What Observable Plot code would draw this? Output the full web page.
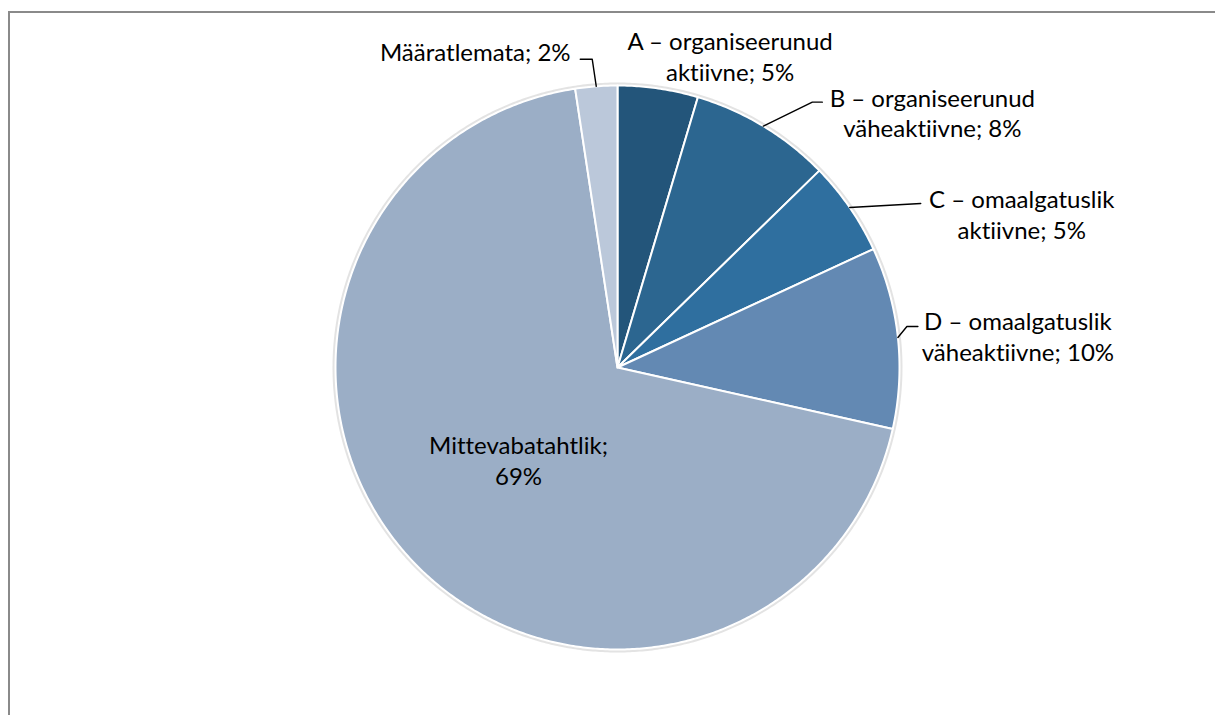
<!DOCTYPE html>
<html><head><meta charset="utf-8">
<script src="https://cdn.jsdelivr.net/npm/d3@7"></script>
<script src="https://cdn.jsdelivr.net/npm/@observablehq/plot@0.6"></script>
<style>
html,body{margin:0;padding:0;background:#fff;overflow:hidden;}
#wrap{position:relative;width:1215px;height:715px;overflow:hidden;}
#frame{position:absolute;left:8px;top:11px;width:1300px;height:800px;border-left:2px solid #8a8a8a;border-top:2px solid #8a8a8a;box-sizing:border-box;pointer-events:none;}
#chart{position:absolute;left:0;top:0;}
#chart text{font-variant-ligatures:none;font-feature-settings:"liga" 0;}
</style></head><body>
<div id="wrap"><div id="chart"></div><div id="frame"></div></div>
<script>
// ---- data ----
const categories = [
  "A – organiseerunud aktiivne",
  "B – organiseerunud väheaktiivne",
  "C – omaalgatuslik aktiivne",
  "D – omaalgatuslik väheaktiivne",
  "Mittevabatahtlik",
  "Määratlemata"
];
const values = [4.6, 8.1, 5.4, 10.4, 69.1, 2.4];
const labelLine1 = ["A – organiseerunud", "B – organiseerunud", "C – omaalgatuslik", "D – omaalgatuslik", "Mittevabatahtlik;", "Määratlemata;"];
const labelLine2 = ["aktiivne;", "väheaktiivne;", "aktiivne;", "väheaktiivne;", "", ""];
const colors = ["#23557a", "#2c6690", "#2f6f9f", "#6389b3", "#9baec6", "#bbc8da"];

// ---- layout ----
const W = 1215, H = 715, CX = 617, CY = 367, R = 282;
// label centre offset from slice edge point, leader elbow/end offsets (null = no leader), inside flag
const layout = [
  {lx: 72, ly: -33, leader: null},
  {lx: 169, ly: -14, leader: [[49, -24], [59, -24]]},
  {lx: 172, ly: 6, leader: [[71, -4]]},
  {lx: 120, ly: -2, leader: [[9, -11], [20, -11]]},
  {inside: 0.48},
  {lx: -121, ly: -35, leader: [[-4, -27], [-16, -27]]}
];

const pie = d3.pie().sort(null).value(d => d)(values);
const pt = (a, r) => [CX + r * Math.sin(a), CY - r * Math.cos(a)];

const slicePts = [];
const ringPts = [];
pie.forEach((s, i) => {
  const name = categories[i];
  slicePts.push({name, x: CX, y: CY});
  const n = Math.max(4, Math.ceil((s.endAngle - s.startAngle) / (Math.PI / 360)));
  for (let k = 0; k <= n; k++) {
    const a = s.startAngle + (s.endAngle - s.startAngle) * k / n;
    const [x, y] = pt(a, R);
    slicePts.push({name, x, y});
  }
  slicePts.push({name, x: CX, y: CY});
});
for (let k = 0; k <= 720; k++) {
  const [x, y] = pt(k / 720 * 2 * Math.PI, R + 1.5);
  ringPts.push({x, y});
}

const labels = [];
const leaders = [];
pie.forEach((s, i) => {
  const mid = (s.startAngle + s.endAngle) / 2;
  const pct = Math.round(values[i]) + "%";
  const L = layout[i];
  let text;
  if (labelLine2[i]) text = labelLine1[i] + "\n" + labelLine2[i] + " " + pct;
  else if (L.inside) text = labelLine1[i] + "\n" + pct;
  else text = labelLine1[i] + " " + pct;
  if (L.inside) {
    const [x, y] = pt(mid, R * L.inside);
    labels.push({x, y, text});
  } else {
    const [ex, ey] = pt(mid, R);
    labels.push({x: ex + L.lx, y: ey + L.ly, text});
    if (L.leader) {
      leaders.push({name: categories[i], x: ex, y: ey});
      L.leader.forEach(([dx, dy]) => leaders.push({name: categories[i], x: ex + dx, y: ey + dy}));
    }
  }
});

const chart = Plot.plot({
  width: W, height: H, margin: 0,
  style: {background: "transparent"},
  x: {axis: null, domain: [0, W]},
  y: {axis: null, domain: [0, H], range: [0, H]},
  color: {domain: categories, range: colors},
  marks: [
    Plot.line(ringPts, {x: "x", y: "y", stroke: "#d0d0d0", strokeWidth: 3, strokeOpacity: 0.6}),
    Plot.line(slicePts, {x: "x", y: "y", z: "name", fill: "name", stroke: "#fff", strokeWidth: 2, strokeLinejoin: "round"}),
    Plot.line(leaders, {x: "x", y: "y", z: "name", stroke: "#000", strokeWidth: 1.4}),
    Plot.text(labels, {x: "x", y: "y", text: "text", fontSize: 24, fontFamily: "Lato", lineHeight: 1.28, fill: "#000", textAnchor: "middle"})
  ]
});
document.getElementById("chart").appendChild(chart);
</script>
</body></html>
